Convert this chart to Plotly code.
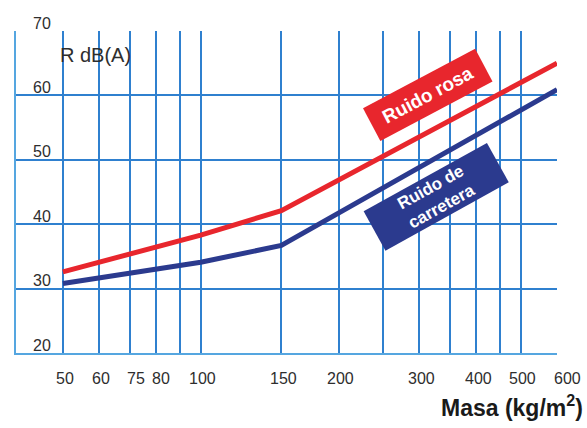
import plotly.graph_objects as go
import math

# Sound reduction index R (dB(A)) against surface mass (kg/m²)
masa = [50, 100, 150, 600]
ruido_rosa = [32.6, 38.3, 42.1, 65.0]
ruido_carretera = [30.8, 34.1, 36.7, 60.9]

x_ticks = [50, 60, 75, 80, 100, 150, 200, 300, 400, 500, 600]
x_grid = [50, 60, 70, 80, 90, 100, 150, 200, 250, 300, 350, 400, 450, 500, 600]
y_ticks = [20, 30, 40, 50, 60, 70]
y_grid = [30, 40, 50, 60]

RED = "#e8262d"
NAVY = "#2b3a8e"
GRID = "#2f80cf"
AXIS = "#55a6e0"
TXT = "#2e2e2e"
FONT = "Liberation Sans, Arial, sans-serif"

fig = go.Figure()
fig.add_trace(go.Scatter(x=masa, y=ruido_rosa, mode="lines",
                         line=dict(color=RED, width=5), name="Ruido rosa"))
fig.add_trace(go.Scatter(x=masa, y=ruido_carretera, mode="lines",
                         line=dict(color=NAVY, width=5), name="Ruido de carretera"))

# Rotated labels for each curve
fig.add_annotation(x=math.log10(313), y=60.0, xref="x", yref="y",
                   text="<b>Ruido rosa</b>", showarrow=False, textangle=-28,
                   font=dict(family=FONT, size=19, color="white"),
                   bgcolor=RED, width=122, height=32, borderpad=2)
fig.add_annotation(x=math.log10(326), y=44.3, xref="x", yref="y",
                   text="<b>Ruido de<br>carretera</b>", showarrow=False, textangle=-29,
                   font=dict(family=FONT, size=17, color="white"),
                   bgcolor=NAVY, width=136, height=40, borderpad=2)

# X tick labels, set just below the axis (75 and 80 nudged apart)
x_nudge = {75: -8, 80: 5, 600: 10}
for v in x_ticks:
    fig.add_annotation(x=math.log10(v), y=0, xref="x", yref="paper",
                       text=str(v), showarrow=False, yanchor="middle",
                       yshift=-25, xshift=x_nudge.get(v, 2),
                       font=dict(family=FONT, size=16, color=TXT))

# Y tick labels, inside the plot and sitting on the grid lines
for v in y_ticks:
    fig.add_annotation(x=0, y=v, xref="paper", yref="y",
                       text=str(v), showarrow=False, xanchor="left",
                       yanchor="middle", xshift=15, yshift=8,
                       font=dict(family=FONT, size=16, color=TXT))

fig.add_annotation(x=0.078, y=0.925, xref="paper", yref="paper", text="R dB(A)",
                   showarrow=False, xanchor="left", yanchor="middle",
                   font=dict(family=FONT, size=20, color=TXT))
fig.add_annotation(x=1.0, y=-0.165, xref="paper", yref="paper",
                   text="<b>Masa (kg/m<sup>2</sup>)</b>", showarrow=False,
                   xanchor="right", yanchor="middle", xshift=28,
                   font=dict(family=FONT, size=23, color="#1a1a1a"))

fig.update_layout(
    width=587, height=428,
    margin=dict(l=16, r=30, t=31, b=75),
    paper_bgcolor="white", plot_bgcolor="white",
    showlegend=False,
    xaxis=dict(
        type="log", range=[math.log10(39.5), math.log10(600)],
        showticklabels=False, showgrid=False, zeroline=False,
        showline=True, linecolor=AXIS, linewidth=2, ticks="",
        minor=dict(tickvals=x_grid, showgrid=True, gridcolor=GRID, gridwidth=1.5, ticks=""),
    ),
    yaxis=dict(
        range=[20, 70],
        showticklabels=False, showgrid=False, zeroline=False,
        showline=True, linecolor=AXIS, linewidth=2, ticks="",
        minor=dict(tickvals=y_grid, showgrid=True, gridcolor=GRID, gridwidth=1.5, ticks=""),
    ),
)

fig.write_html("out.html")
